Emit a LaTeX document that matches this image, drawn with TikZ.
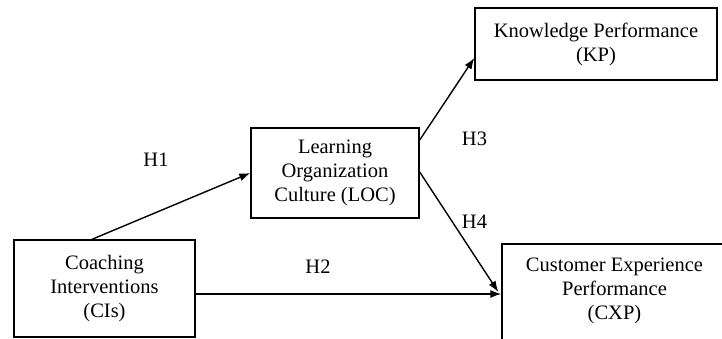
\documentclass[tikz,border=0pt]{standalone}
\usepackage{fontspec}
\setmainfont{Liberation Serif}
\usetikzlibrary{arrows.meta,calc}
\begin{document}
\begin{tikzpicture}[x=1pt,y=-1pt,
  box/.style={draw,line width=1.4pt,inner sep=0pt,align=center,
    font=\fontsize{20.5}{24}\selectfont},
  lbl/.style={font=\fontsize{20.5}{24}\selectfont,inner sep=0pt},
  arr/.style={line width=1.4pt,-{Latex[length=11pt,width=8pt]}}]
\useasboundingbox (0,0) rectangle (722,338);
\clip (0,0) rectangle (722,338);
\node[box,minimum width=181pt,minimum height=97pt] (ci) at (104.5,288.5) {Coaching\\Interventions\\(CIs)};
\node[box,minimum width=168pt,minimum height=90pt] (loc) at (335,173) {Learning\\Organization\\Culture (LOC)};
\node[box,minimum width=242pt,minimum height=72pt] (kp) at (596,44) {Knowledge Performance\\(KP)};
\node[box,minimum width=225pt,minimum height=110pt] (cxp) at (614.5,299) {};
\node[lbl,align=center] (cxpt) at (614.5,291) {Customer Experience\\Performance\\(CXP)};
\draw[arr] ($(ci.north)+(-12.5,0)$) -- (loc.west);
\draw[arr] (ci.east |- 0,294) -- (cxp.west |- 0,294);
\draw[arr] ($(loc.east)+(0,-33)$) -- ($(kp.west)+(0,14)$);
\draw[arr] ($(loc.east)+(0,-1)$) -- ($(cxp.west)+(-3,-7)$);
\node[lbl] (h1) at (156,160) {H1};
\node[lbl] (h2) at (318,267) {H2};
\node[lbl] (h3) at (474.5,139) {H3};
\node[lbl] (h4) at (474.5,222) {H4};
\end{tikzpicture}
\end{document}
